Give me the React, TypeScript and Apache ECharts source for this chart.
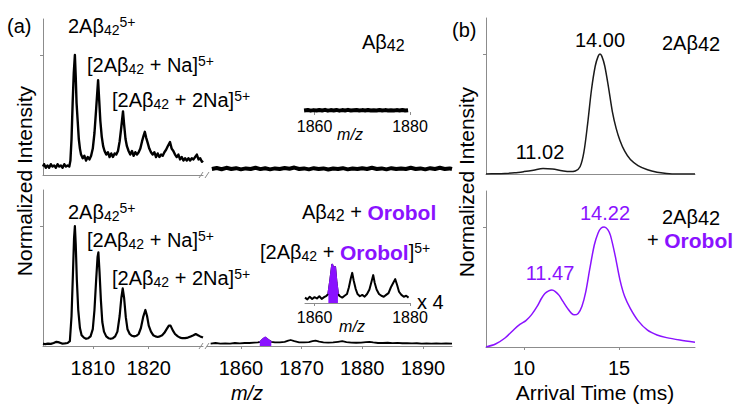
import React, { useEffect, useRef } from 'react';
import * as echarts from 'echarts';

// ---------- data ----------
// Panel (a) top: Abeta42 alone, left m/z segment
const topLeftSpec: [number, number][] = [
  [1801.1, 0.07], [1801.3, 0.09], [1801.6, 0.06], [1801.9, 0.08], [1802.2, 0.06], [1802.5, 0.09],
  [1802.8, 0.07], [1803.1, 0.08], [1803.4, 0.06], [1803.7, 0.09], [1804.0, 0.07], [1804.3, 0.08],
  [1804.6, 0.06], [1804.9, 0.09], [1805.2, 0.07], [1805.5, 0.08], [1805.8, 0.07], [1806.0, 0.12],
  [1806.2, 0.3], [1806.4, 0.6], [1806.6, 0.85], [1806.8, 1.0], [1806.95, 0.82], [1807.1, 0.6],
  [1807.3, 0.45], [1807.5, 0.3], [1807.7, 0.22], [1807.9, 0.17], [1808.2, 0.14], [1808.5, 0.16],
  [1808.8, 0.12], [1809.1, 0.15], [1809.4, 0.13], [1809.7, 0.16], [1810.0, 0.22], [1810.3, 0.35],
  [1810.6, 0.55], [1810.95, 0.79], [1811.15, 0.62], [1811.35, 0.45], [1811.6, 0.32], [1811.85, 0.24],
  [1812.1, 0.2], [1812.4, 0.17], [1812.7, 0.19], [1813.0, 0.15], [1813.3, 0.18], [1813.6, 0.15],
  [1813.9, 0.18], [1814.2, 0.17], [1814.5, 0.2], [1814.8, 0.28], [1815.1, 0.4], [1815.4, 0.53],
  [1815.6, 0.42], [1815.85, 0.3], [1816.1, 0.24], [1816.4, 0.2], [1816.7, 0.17], [1817.0, 0.2],
  [1817.3, 0.16], [1817.6, 0.19], [1817.9, 0.17], [1818.2, 0.19], [1818.5, 0.22], [1818.8, 0.28],
  [1819.1, 0.33], [1819.3, 0.36], [1819.55, 0.31], [1819.8, 0.27], [1820.1, 0.22], [1820.4, 0.19],
  [1820.7, 0.17], [1821.0, 0.19], [1821.3, 0.15], [1821.6, 0.18], [1821.9, 0.15], [1822.2, 0.17],
  [1822.5, 0.16], [1822.8, 0.19], [1823.1, 0.21], [1823.4, 0.24], [1823.8, 0.275], [1824.1, 0.22],
  [1824.4, 0.2], [1824.7, 0.17], [1825.0, 0.15], [1825.3, 0.17], [1825.6, 0.13], [1825.9, 0.15],
  [1826.2, 0.12], [1826.5, 0.14], [1826.8, 0.12], [1827.1, 0.14], [1827.4, 0.12], [1827.7, 0.14],
  [1828.0, 0.13], [1828.3, 0.15], [1828.6, 0.17], [1828.9, 0.13], [1829.2, 0.14], [1829.5, 0.11],
  [1829.7, 0.12],
];

// Panel (a) top: right m/z segment (flat noise band)
const topRightSpec: [number, number][] = [
  [1855.2, 0.05], [1856.0, 0.058], [1856.8, 0.048], [1857.6, 0.06], [1858.4, 0.05], [1859.2, 0.057],
  [1860.0, 0.047], [1860.8, 0.055], [1861.6, 0.05], [1862.4, 0.06], [1863.2, 0.049], [1864.0, 0.056],
  [1864.8, 0.047], [1865.6, 0.055], [1866.4, 0.05], [1867.2, 0.058], [1868.0, 0.052], [1868.8, 0.062],
  [1869.6, 0.05], [1870.4, 0.055], [1871.2, 0.047], [1872.0, 0.057], [1872.8, 0.05], [1873.6, 0.055],
  [1874.4, 0.046], [1875.2, 0.054], [1876.0, 0.05], [1876.8, 0.057], [1877.6, 0.047], [1878.4, 0.054],
  [1879.2, 0.05], [1880.0, 0.057], [1880.8, 0.05], [1881.6, 0.06], [1882.4, 0.05], [1883.2, 0.055],
  [1884.0, 0.047], [1884.8, 0.057], [1885.6, 0.05], [1886.4, 0.055], [1887.2, 0.05], [1888.0, 0.06],
  [1888.8, 0.05], [1889.6, 0.055], [1890.4, 0.047], [1891.2, 0.057], [1892.0, 0.05], [1892.8, 0.06],
  [1893.6, 0.05], [1894.4, 0.055], [1894.8, 0.05],
];

// Panel (a) bottom: Abeta42 + Orobol, left m/z segment
const botLeftSpec: [number, number][] = [
  [1801.1, 0.02], [1801.5, 0.015], [1802.0, 0.02], [1802.5, 0.018], [1803.0, 0.025], [1803.5, 0.035],
  [1804.0, 0.03], [1804.5, 0.02], [1805.0, 0.022], [1805.5, 0.025], [1805.9, 0.04], [1806.2, 0.25],
  [1806.45, 0.6], [1806.65, 0.9], [1806.8, 1.0], [1806.95, 0.85], [1807.15, 0.55], [1807.4, 0.3],
  [1807.7, 0.15], [1808.0, 0.09], [1808.4, 0.07], [1808.8, 0.06], [1809.2, 0.065], [1809.6, 0.08],
  [1810.0, 0.14], [1810.3, 0.3], [1810.6, 0.55], [1810.85, 0.74], [1811.0, 0.78], [1811.2, 0.62],
  [1811.45, 0.38], [1811.7, 0.2], [1812.0, 0.12], [1812.4, 0.08], [1812.8, 0.065], [1813.2, 0.06],
  [1813.6, 0.065], [1814.0, 0.08], [1814.4, 0.12], [1814.8, 0.25], [1815.1, 0.4], [1815.35, 0.48],
  [1815.6, 0.4], [1815.9, 0.24], [1816.2, 0.14], [1816.6, 0.1], [1817.0, 0.085], [1817.4, 0.08],
  [1817.8, 0.085], [1818.2, 0.1], [1818.6, 0.15], [1819.0, 0.24], [1819.4, 0.3], [1819.7, 0.25],
  [1820.0, 0.17], [1820.4, 0.12], [1820.8, 0.09], [1821.2, 0.08], [1821.6, 0.075], [1822.0, 0.08],
  [1822.4, 0.09], [1822.8, 0.11], [1823.2, 0.14], [1823.6, 0.17], [1823.9, 0.17], [1824.3, 0.13],
  [1824.7, 0.1], [1825.2, 0.08], [1825.6, 0.07], [1826.0, 0.065], [1826.5, 0.065], [1827.0, 0.07],
  [1827.5, 0.08], [1828.0, 0.09], [1828.4, 0.1], [1828.8, 0.09], [1829.2, 0.08], [1829.7, 0.07],
];

// Panel (a) bottom: right m/z segment
const botRightSpec: [number, number][] = [
  [1855.0, 0.02], [1855.8, 0.025], [1856.6, 0.02], [1857.4, 0.022], [1858.2, 0.02], [1859.0, 0.025],
  [1859.8, 0.022], [1860.6, 0.025], [1861.4, 0.025], [1862.2, 0.028], [1862.8, 0.03], [1863.2, 0.035],
  [1863.6, 0.055], [1864.0, 0.07], [1864.5, 0.05], [1865.0, 0.035], [1865.6, 0.03], [1866.4, 0.03],
  [1867.2, 0.035], [1867.8, 0.045], [1868.2, 0.05], [1868.8, 0.04], [1869.6, 0.03], [1870.4, 0.03],
  [1871.2, 0.032], [1871.8, 0.04], [1872.3, 0.045], [1872.9, 0.036], [1873.6, 0.03], [1874.4, 0.028],
  [1875.2, 0.03], [1876.0, 0.035], [1876.7, 0.04], [1877.4, 0.033], [1878.2, 0.028], [1879.0, 0.027],
  [1879.8, 0.028], [1880.6, 0.032], [1881.2, 0.035], [1881.8, 0.03], [1882.6, 0.025], [1883.4, 0.025],
  [1884.2, 0.027], [1885.0, 0.024], [1885.8, 0.026], [1886.6, 0.023], [1887.4, 0.024], [1888.2, 0.022],
  [1889.0, 0.023], [1889.8, 0.02], [1890.6, 0.022], [1891.4, 0.02], [1892.2, 0.022], [1893.0, 0.02],
  [1893.8, 0.021], [1894.8, 0.02],
];
const botRightOrobol: [number, number][] = [
  [1863.1, 0.03], [1863.6, 0.055], [1864.0, 0.07], [1864.5, 0.05], [1865.0, 0.03],
];

// Insets (1860-1880 zoom)
const topInset: [number, number][] = [
  [1857.8, 0.035], [1858.6, 0.045], [1859.2, 0.03], [1859.8, 0.042], [1860.4, 0.032], [1861, 0.045],
  [1861.6, 0.035], [1862.2, 0.048], [1862.8, 0.03], [1863.4, 0.042], [1864, 0.035], [1864.6, 0.046],
  [1865.2, 0.03], [1865.8, 0.042], [1866.4, 0.035], [1867, 0.048], [1867.6, 0.032], [1868.2, 0.04],
  [1868.8, 0.046], [1869.4, 0.032], [1870, 0.042], [1870.6, 0.035], [1871.2, 0.046], [1871.8, 0.032],
  [1872.4, 0.04], [1873, 0.035], [1873.6, 0.046], [1874.2, 0.032], [1874.8, 0.042], [1875.4, 0.035],
  [1876, 0.04], [1876.6, 0.032], [1877.2, 0.042], [1877.8, 0.035], [1878.4, 0.046], [1879, 0.032],
  [1879.6, 0.04],
];
const botInset: [number, number][] = [
  [1858.0, 0.12], [1858.5, 0.08], [1859.0, 0.14], [1859.5, 0.09], [1860.0, 0.13], [1860.5, 0.1],
  [1861.0, 0.15], [1861.5, 0.09], [1862.0, 0.13], [1862.5, 0.16], [1862.9, 0.2], [1863.3, 0.5],
  [1863.7, 0.85], [1864.0, 0.75], [1864.3, 0.8], [1864.6, 0.45], [1864.9, 0.2], [1865.3, 0.15],
  [1865.8, 0.12], [1866.3, 0.16], [1866.8, 0.2], [1867.2, 0.35], [1867.6, 0.55], [1867.9, 0.67],
  [1868.2, 0.5], [1868.6, 0.32], [1869.0, 0.2], [1869.5, 0.15], [1870.0, 0.18], [1870.5, 0.14],
  [1871.0, 0.2], [1871.5, 0.3], [1872.0, 0.5], [1872.3, 0.62], [1872.6, 0.45], [1873.0, 0.3],
  [1873.5, 0.2], [1874.0, 0.16], [1874.5, 0.14], [1875.0, 0.18], [1875.5, 0.22], [1876.0, 0.35],
  [1876.5, 0.45], [1876.9, 0.53], [1877.3, 0.4], [1877.7, 0.25], [1878.2, 0.18], [1878.7, 0.14],
  [1879.2, 0.16], [1879.7, 0.12],
];
const botInsetOrobol: [number, number][] = [
  [1862.9, 0.2], [1863.3, 0.5], [1863.7, 0.85], [1864.0, 0.75], [1864.3, 0.8], [1864.6, 0.45], [1864.9, 0.2],
];

// Panel (b): arrival time distributions
const atdAbeta: [number, number][] = [
  [8.0, 0.0], [8.5, 0.002], [9.0, 0.005], [9.5, 0.01], [10.0, 0.02], [10.5, 0.032], [11.0, 0.046],
  [11.5, 0.042], [12.0, 0.028], [12.4, 0.02], [12.7, 0.025], [12.95, 0.06], [13.15, 0.18], [13.35, 0.42],
  [13.55, 0.7], [13.75, 0.9], [13.9, 0.98], [14.0, 1.0], [14.1, 0.98], [14.25, 0.9], [14.45, 0.72],
  [14.65, 0.52], [14.85, 0.38], [15.05, 0.28], [15.3, 0.19], [15.6, 0.12], [16.0, 0.07], [16.5, 0.035],
  [17.0, 0.015], [17.5, 0.005], [18.0, 0.0], [19.0, 0.0],
];
const atdOrobol: [number, number][] = [
  [8.0, 0.0], [8.5, 0.025], [9.0, 0.075], [9.5, 0.15], [9.8, 0.19], [10.1, 0.22], [10.4, 0.27],
  [10.7, 0.34], [10.9, 0.4], [11.1, 0.445], [11.3, 0.468], [11.47, 0.475], [11.65, 0.462], [11.85, 0.43],
  [12.05, 0.38], [12.3, 0.32], [12.5, 0.28], [12.65, 0.268], [12.85, 0.28], [13.05, 0.34], [13.25, 0.46],
  [13.45, 0.64], [13.7, 0.85], [13.9, 0.95], [14.05, 0.99], [14.22, 1.0], [14.4, 0.98], [14.55, 0.93],
  [14.8, 0.76], [15.05, 0.56], [15.3, 0.42], [15.6, 0.32], [16.0, 0.22], [16.5, 0.14], [17.0, 0.1],
  [17.5, 0.078], [18.2, 0.058], [19.0, 0.04],
];

const mzTicksLeft = [1810, 1820];
const mzTicksRight = [1860, 1870, 1880, 1890];
const mzTicksInset = [1860, 1880];
const timeTicks = [10, 15];
const peakLabelsTop = ['14.00', '11.02'];
const peakLabelsBot = ['14.22', '11.47'];

// ---------- styling ----------
const FONT = '"Liberation Sans", Arial, Helvetica, sans-serif';
const PURPLE = '#8A12FF';
const AXIS = '#8c8c8c';

const RICH: any = {
  n: { fontSize: 20, fontFamily: FONT, lineHeight: 22, fill: '#000', color: '#000' },
  s: { fontSize: 14, fontFamily: FONT, lineHeight: 8, verticalAlign: 'bottom', fill: '#000', color: '#000' },
  p: { fontSize: 14, fontFamily: FONT, lineHeight: 17, verticalAlign: 'top', fill: '#000', color: '#000' },
  m: { fontSize: 16, fontFamily: FONT, lineHeight: 15, verticalAlign: 'bottom', fill: '#000', color: '#000' },
  b: { fontSize: 20, fontFamily: FONT, lineHeight: 16, verticalAlign: 'bottom', fill: '#000', color: '#000' },
  o: { fontSize: 21, fontFamily: FONT, fontWeight: 'bold', lineHeight: 22, fill: PURPLE, color: PURPLE },
};

function txt(text: string, x: number, y: number, o: any = {}) {
  const align = o.align || 'left';
  return {
    type: 'text',
    x,
    y,
    rotation: o.rot || 0,
    silent: true,
    z: 100,
    style: {
      text,
      fill: o.color || '#000',
      fontSize: o.size || 20,
      fontFamily: FONT,
      fontStyle: o.italic ? 'italic' : 'normal',
      fontWeight: o.bold ? 'bold' : 'normal',
      lineHeight: o.lh,
      align,
      verticalAlign: 'middle',
      textAlign: align,
      textVerticalAlign: 'middle',
      rich: RICH,
    },
  };
}

function seg(x1: number, y1: number, x2: number, y2: number) {
  return {
    type: 'line',
    silent: true,
    shape: { x1, y1, x2, y2 },
    style: { stroke: AXIS, lineWidth: 1 },
  };
}

const plain = (v: number) => String(v);

function xAx(grid: number, min: number, max: number, o: any = {}) {
  return {
    type: 'value',
    gridIndex: grid,
    min,
    max,
    axisLine: { show: !!o.line, onZero: false, lineStyle: { color: AXIS, width: 1 } },
    axisTick: o.ticks
      ? { show: true, customValues: o.ticks, length: 3, lineStyle: { color: AXIS } }
      : { show: false },
    axisLabel: o.ticks
      ? {
          show: true,
          customValues: o.ticks,
          formatter: plain,
          fontSize: o.fontSize || 20,
          fontFamily: FONT,
          color: '#000',
          margin: o.margin ?? 12,
        }
      : { show: false },
    splitLine: { show: false },
  };
}

function yAx(grid: number, max: number, show: boolean) {
  return {
    type: 'value',
    gridIndex: grid,
    min: 0,
    max,
    show,
    axisLine: { show, lineStyle: { color: AXIS, width: 1 } },
    axisTick: { show, customValues: [1], length: 3, lineStyle: { color: AXIS } },
    axisLabel: { show: false },
    splitLine: { show: false },
  };
}

function spec(data: [number, number][], idx: number, color = '#000', width = 1.6, extra: any = {}) {
  return {
    type: 'line',
    xAxisIndex: idx,
    yAxisIndex: idx,
    data,
    symbol: 'none',
    showSymbol: false,
    silent: true,
    lineStyle: { color, width, join: 'round' },
    ...extra,
  };
}

export default function App() {
  const ref = useRef<HTMLDivElement>(null);
  useEffect(() => {
    if (!ref.current) return;
    const chart = echarts.init(ref.current, undefined, { renderer: 'svg' });
    const option: any = {
      animation: false,
      backgroundColor: '#fff',
      grid: [
        { left: 43, top: 19, width: 160, height: 156 },   // 0 top-left
        { left: 207, top: 19, width: 245, height: 156 },  // 1 top-right segment
        { left: 43, top: 190, width: 160, height: 156 },  // 2 bottom-left
        { left: 207, top: 190, width: 245, height: 156 }, // 3 bottom-right segment
        { left: 305, top: 67, width: 105, height: 45 },   // 4 top inset
        { left: 305, top: 258, width: 105, height: 45 },  // 5 bottom inset
        { left: 486, top: 18, width: 209, height: 156 },  // 6 ATD top
        { left: 486, top: 191, width: 209, height: 156 }, // 7 ATD bottom
      ],
      xAxis: [
        xAx(0, 1801.1, 1829.7, { line: true }),
        xAx(1, 1854.4, 1894.8, {}),
        xAx(2, 1801.1, 1829.7, { line: true, ticks: mzTicksLeft, margin: 12 }),
        xAx(3, 1854.4, 1894.8, { line: true, ticks: mzTicksRight, margin: 12 }),
        xAx(4, 1858, 1880, { line: false, ticks: mzTicksInset, fontSize: 16, margin: 6 }),
        xAx(5, 1858, 1880, { line: true, ticks: mzTicksInset, fontSize: 16, margin: 6 }),
        xAx(6, 8, 19, { line: true }),
        xAx(7, 8, 19, { line: true, ticks: timeTicks, margin: 11 }),
      ],
      yAxis: [
        yAx(0, 1.3, true),
        yAx(1, 1.3, false),
        yAx(2, 1.3, true),
        yAx(3, 1.3, false),
        yAx(4, 1, false),
        yAx(5, 1, false),
        yAx(6, 1.3, true),
        yAx(7, 1.3, true),
      ],
      series: [
        spec(topLeftSpec, 0, '#000', 2.4),
        spec(topRightSpec, 1, '#000', 4),
        spec(botLeftSpec, 2, '#000', 2.2),
        spec(botRightSpec, 3, '#000', 1.8),
        spec(botRightOrobol, 3, PURPLE, 2, { areaStyle: { color: PURPLE, opacity: 1 }, z: 5 }),
        spec(topInset, 4, '#000', 4),
        spec(botInset, 5, '#000', 2),
        spec(botInsetOrobol, 5, PURPLE, 2, { areaStyle: { color: PURPLE, opacity: 1 }, z: 5 }),
        spec(atdAbeta, 6, '#1a1a1a', 1.5, { smooth: 0.3 }),
        spec(atdOrobol, 7, PURPLE, 1.5, { smooth: 0.3 }),
      ],
      graphic: [
        // axis break marks
        seg(199, 178, 203, 172),
        seg(205, 178, 209, 172),
        seg(199, 349, 203, 343),
        seg(205, 349, 209, 343),
        // panel (a)
        txt('(a)', 7, 26),
        txt('{n|2Aβ}{s|42}{p|5+}', 68, 26),
        txt('{n|[2Aβ}{s|42}{n| + Na]}{p|5+}', 87, 65),
        txt('{n|[2Aβ}{s|42}{n| + 2Na]}{p|5+}', 112, 100),
        txt('{n|Aβ}{m|42}', 362, 42),
        txt('m/z', 350, 134, { size: 16, italic: true, align: 'center', lh: 16 }),
        txt('{n|2Aβ}{s|42}{p|5+}', 68, 212),
        txt('{n|[2Aβ}{s|42}{n| + Na]}{p|5+}', 87, 240),
        txt('{n|[2Aβ}{s|42}{n| + 2Na]}{p|5+}', 112, 278),
        txt('{n|Aβ}{m|42}{n| + }{o|Orobol}', 302, 212),
        txt('{n|[2Aβ}{s|42}{n| + }{o|Orobol}{n|]}{p|5+}', 260, 252),
        txt('x 4', 417, 302),
        txt('m/z', 352, 326, { size: 16, italic: true, align: 'center', lh: 16 }),
        txt('m/z', 247, 393, { italic: true, align: 'center', lh: 14 }),
        txt('Normalized Intensity', 24, 181, { rot: Math.PI / 2, align: 'center', size: 21 }),
        // panel (b)
        txt('(b)', 452, 30),
        txt(peakLabelsTop[0], 600, 40, { align: 'center' }),
        txt(peakLabelsTop[1], 540, 152, { align: 'center' }),
        txt('{n|2Aβ}{b|42}', 662, 43),
        txt(peakLabelsBot[0], 605, 213, { align: 'center', color: PURPLE }),
        txt(peakLabelsBot[1], 550, 273, { align: 'center', color: PURPLE }),
        txt('{n|2Aβ}{b|42}', 662, 217),
        txt('{n|+ }{o|Orobol}', 647, 240),
        txt('Arrival Time (ms)', 595, 392, { align: 'center', size: 21, lh: 14 }),
        txt('Normalized Intensity', 466, 182, { rot: Math.PI / 2, align: 'center', size: 21 }),
      ],
    };
    chart.setOption(option);
    return () => chart.dispose();
  }, []);
  return (
    <div
      ref={ref}
      style={{ position: 'absolute', left: 0, top: 0, width: 740, height: 405, background: '#fff' }}
    />
  );
}
